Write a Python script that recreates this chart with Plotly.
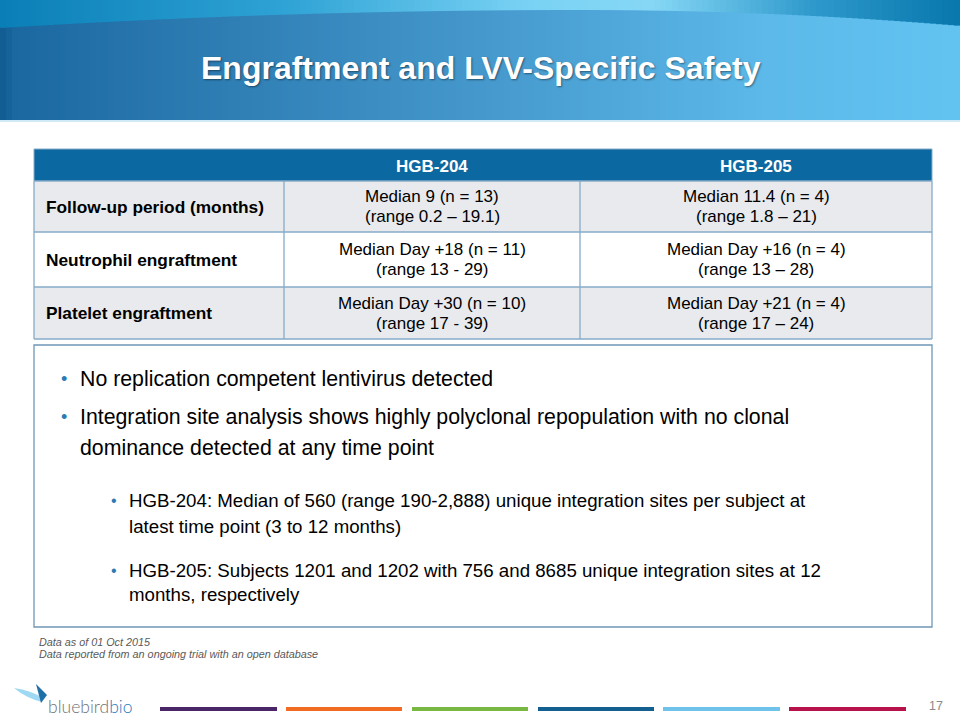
import plotly.graph_objects as go

# ---------------- content ----------------
title_text = "Engraftment and LVV-Specific Safety"
col_headers = ["HGB-204", "HGB-205"]
row_labels = ["Follow-up period (months)", "Neutrophil engraftment", "Platelet engraftment"]
hgb204_line1 = ["Median 9 (n = 13)", "Median Day +18 (n = 11)", "Median Day +30 (n = 10)"]
hgb204_line2 = ["(range 0.2 \u2013 19.1)", "(range 13 - 29)", "(range 17 - 39)"]
hgb205_line1 = ["Median 11.4 (n = 4)", "Median Day +16 (n = 4)", "Median Day +21 (n = 4)"]
hgb205_line2 = ["(range 1.8 \u2013 21)", "(range 13 \u2013 28)", "(range 17 \u2013 24)"]
main_bullets = [
    ["No replication competent lentivirus detected"],
    ["Integration site analysis shows highly polyclonal repopulation with no clonal",
     "dominance detected at any time point"],
]
sub_bullets = [
    ["HGB-204: Median of 560 (range 190-2,888) unique integration sites per subject at",
     "latest time point (3 to 12 months)"],
    ["HGB-205: Subjects 1201 and 1202 with 756 and 8685 unique integration sites at 12",
     "months, respectively"],
]
footnotes = ["Data as of 01 Oct 2015", "Data reported from an ongoing trial with an open database"]
page_number = "17"
footer_colors = ["#4a2568", "#f26b22", "#7ab844", "#135f90", "#6fc2ea", "#b8124d"]

# ---------------- layout constants ----------------
W, H = 960, 720
FONT = "Arial, Liberation Sans, sans-serif"
col_x = [34, 284, 580, 932]
row_y = [149, 181, 232, 287, 339]
header_fill = "#0c68a0"
row_fills = ["#e8eaee", "#ffffff", "#e8eaee"]
grid_col = "#86abc8"
main_y = [[379], [417, 448]]
sub_y = [[500, 526], [570, 594]]
foot_y = [642, 654]
bar_x = [(160, 277), (286, 402), (412, 528), (538, 654), (663, 780), (789, 906)]

shapes = []
annotations = []


def lerp_color(stops, t):
    for i in range(len(stops) - 1):
        t0, c0 = stops[i]
        t1, c1 = stops[i + 1]
        if t0 <= t <= t1:
            f = (t - t0) / (t1 - t0) if t1 > t0 else 0
            a = [int(c0[j:j + 2], 16) for j in (1, 3, 5)]
            b = [int(c1[j:j + 2], 16) for j in (1, 3, 5)]
            c = [round(a[k] + (b[k] - a[k]) * f) for k in range(3)]
            return "#%02x%02x%02x" % tuple(c)
    return stops[-1][1]


upper_stops = [(0, "#0a7fb7"), (0.3, "#2fa3d5"), (0.55, "#79d2f4"), (0.68, "#86d7f5"),
               (0.85, "#2d98cb"), (1.0, "#0877ac")]
main_stops = [(0, "#0f5b91"), (0.015, "#1b68a0"), (0.5, "#4598cc"), (0.8, "#5cb9e9"), (1.0, "#62c3f1")]


def curve_y(x):
    if x < 580:
        return 10 + 5.35e-5 * (x - 580) ** 2
    return 10 + 1.1e-4 * (x - 580) ** 2


band_bottom = 120
step = 6
for x0 in range(0, W, step):
    xm = x0 + step / 2
    t = xm / W
    shapes.append(dict(type="rect", xref="x", yref="y", x0=x0, x1=x0 + step + 0.6, y0=0, y1=band_bottom,
                       fillcolor=lerp_color(upper_stops, t), line=dict(width=0), layer="below"))
    shapes.append(dict(type="rect", xref="x", yref="y", x0=x0, x1=x0 + step + 0.6, y0=curve_y(xm),
                       y1=band_bottom, fillcolor=lerp_color(main_stops, t), line=dict(width=0),
                       layer="below"))
shapes.append(dict(type="rect", xref="x", yref="y", x0=0, x1=W, y0=band_bottom, y1=band_bottom + 2,
                   fillcolor="#cfe9f6", line=dict(width=0), layer="below"))

annotations.append(dict(x=481, y=68, xref="x", yref="y", text="<b>%s</b>" % title_text,
                        showarrow=False, xanchor="center", yanchor="middle",
                        font=dict(family=FONT, size=32, color="#ffffff",
                                  shadow="1px 1px 2px rgba(0,0,0,0.45)")))

# ---------------- table ----------------
shapes.append(dict(type="rect", xref="x", yref="y", x0=col_x[0], x1=col_x[-1], y0=row_y[0], y1=row_y[1],
                   fillcolor=header_fill, line=dict(width=0)))
for r in range(3):
    shapes.append(dict(type="rect", xref="x", yref="y", x0=col_x[0], x1=col_x[-1],
                       y0=row_y[r + 1], y1=row_y[r + 2], fillcolor=row_fills[r],
                       line=dict(width=0)))
for yy in row_y[1:]:
    shapes.append(dict(type="line", xref="x", yref="y", x0=col_x[0], x1=col_x[-1], y0=yy, y1=yy,
                       line=dict(color=grid_col, width=1.3)))
for xx in col_x:
    shapes.append(dict(type="line", xref="x", yref="y", x0=xx, x1=xx, y0=row_y[1], y1=row_y[-1],
                       line=dict(color=grid_col, width=1.3)))
shapes.append(dict(type="line", xref="x", yref="y", x0=col_x[0], x1=col_x[-1], y0=row_y[0], y1=row_y[0],
                   line=dict(color=grid_col, width=1)))
for xx in (col_x[0], col_x[-1]):
    shapes.append(dict(type="line", xref="x", yref="y", x0=xx, x1=xx, y0=row_y[0], y1=row_y[1],
                       line=dict(color=grid_col, width=1)))

for i, hdr in enumerate(col_headers):
    annotations.append(dict(x=(col_x[i + 1] + col_x[i + 2]) / 2, y=(row_y[0] + row_y[1]) / 2 + 1,
                            xref="x", yref="y", text="<b>%s</b>" % hdr, showarrow=False,
                            xanchor="center", yanchor="middle",
                            font=dict(family=FONT, size=17, color="#ffffff")))

cols_l1 = [hgb204_line1, hgb205_line1]
cols_l2 = [hgb204_line2, hgb205_line2]
for r in range(3):
    rc = (row_y[r + 1] + row_y[r + 2]) / 2
    annotations.append(dict(x=col_x[0] + 10, y=rc, xref="x", yref="y",
                            text="<b>%s</b>" % row_labels[r], showarrow=False,
                            xanchor="left", yanchor="middle",
                            font=dict(family=FONT, size=17.3, color="#000000")))
    for c in range(2):
        cx = (col_x[c + 1] + col_x[c + 2]) / 2
        annotations.append(dict(x=cx, y=rc - 10, xref="x", yref="y", text=cols_l1[c][r],
                                showarrow=False, xanchor="center", yanchor="middle",
                                font=dict(family=FONT, size=17, color="#000000")))
        annotations.append(dict(x=cx, y=rc + 10, xref="x", yref="y", text=cols_l2[c][r],
                                showarrow=False, xanchor="center", yanchor="middle",
                                font=dict(family=FONT, size=17, color="#000000")))

# ---------------- bullet box ----------------
shapes.append(dict(type="rect", xref="x", yref="y", x0=34, x1=932, y0=345, y1=627,
                   fillcolor="rgba(0,0,0,0)", line=dict(color="#6f97b6", width=1.3)))

bullet_col = "#2c7ab5"
for lines, ys in zip(main_bullets, main_y):
    annotations.append(dict(x=64, y=ys[0], xref="x", yref="y", text="\u2022", showarrow=False,
                            xanchor="center", yanchor="middle",
                            font=dict(family=FONT, size=18, color=bullet_col)))
    for ln, yy in zip(lines, ys):
        annotations.append(dict(x=78, y=yy, xref="x", yref="y", text=ln, showarrow=False,
                                xanchor="left", yanchor="middle",
                                font=dict(family=FONT, size=21.3, color="#000000")))
for lines, ys in zip(sub_bullets, sub_y):
    annotations.append(dict(x=114, y=ys[0], xref="x", yref="y", text="\u2022", showarrow=False,
                            xanchor="center", yanchor="middle",
                            font=dict(family=FONT, size=16, color=bullet_col)))
    for ln, yy in zip(lines, ys):
        annotations.append(dict(x=127, y=yy, xref="x", yref="y", text=ln, showarrow=False,
                                xanchor="left", yanchor="middle",
                                font=dict(family=FONT, size=18.7, color="#000000")))

# ---------------- footnotes ----------------
for fn, yy in zip(footnotes, foot_y):
    annotations.append(dict(x=37, y=yy, xref="x", yref="y", text="<i>%s</i>" % fn, showarrow=False,
                            xanchor="left", yanchor="middle",
                            font=dict(family=FONT, size=10.8, color="#595959")))

# ---------------- footer ----------------
for (x0, x1), colr in zip(bar_x, footer_colors):
    shapes.append(dict(type="rect", xref="x", yref="y", x0=x0, x1=x1, y0=707, y1=711,
                       fillcolor=colr, line=dict(width=0)))
annotations.append(dict(x=936, y=706, xref="x", yref="y", text=page_number, showarrow=False,
                        xanchor="center", yanchor="middle",
                        font=dict(family=FONT, size=12.5, color="#8a8a8a")))

# logo
shapes.append(dict(type="path", xref="x", yref="y",
                   path="M 14,688 Q 28,690 40,696 L 42,702 Q 26,698 14,688 Z",
                   fillcolor="#9fd8f2", line=dict(width=0)))
shapes.append(dict(type="path", xref="x", yref="y",
                   path="M 36,684 L 47,695 L 41,703 Z",
                   fillcolor="#1f6fa8", line=dict(width=0)))
annotations.append(dict(x=46, y=706, xref="x", yref="y",
                        text="<span style='color:#707173'>bluebird</span><span style='color:#1c7cc0'>bio</span>",
                        showarrow=False, xanchor="left", yanchor="middle",
                        font=dict(family="Lato, sans-serif", size=17.5, weight=300)))

fig = go.Figure()
fig.update_layout(
    width=W, height=H, margin=dict(l=0, r=0, t=0, b=0),
    paper_bgcolor="#ffffff", plot_bgcolor="#ffffff",
    xaxis=dict(range=[0, W], visible=False, fixedrange=True),
    yaxis=dict(range=[H, 0], visible=False, fixedrange=True),
    shapes=shapes, annotations=annotations, showlegend=False,
)
fig.write_html("out.html", config={"displayModeBar": False},
               post_script="document.body.style.margin='0';document.body.style.overflow='hidden';")
